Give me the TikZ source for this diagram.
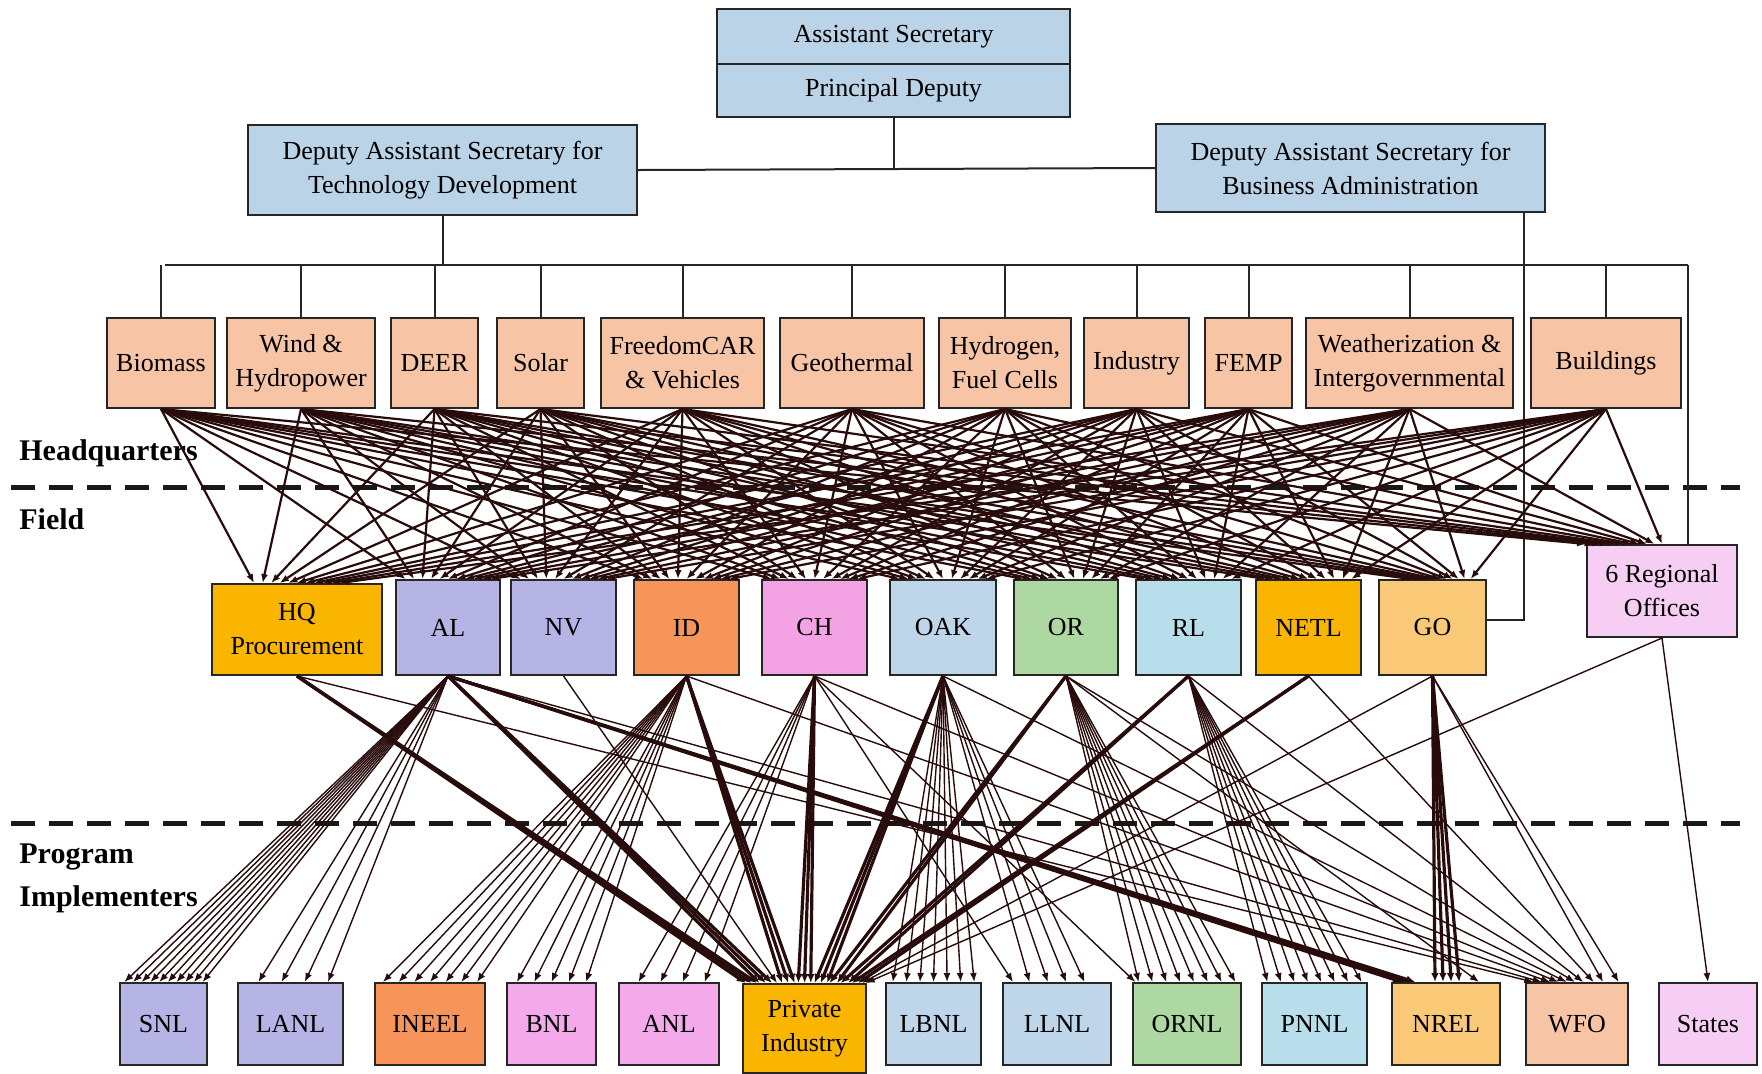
\documentclass[tikz,border=0pt]{standalone}
\usepackage{fontspec}
\setmainfont{Liberation Serif}
\usetikzlibrary{calc,arrows.meta}
\definecolor{topblue}{RGB}{186,211,231}
\definecolor{peach}{RGB}{247,196,166}
\definecolor{hqorange}{RGB}{250,181,0}
\definecolor{lav}{RGB}{181,180,228}
\definecolor{idorange}{RGB}{247,148,90}
\definecolor{chpink}{RGB}{243,162,228}
\definecolor{ltpink}{RGB}{244,170,234}
\definecolor{oakblue}{RGB}{190,213,234}
\definecolor{orgreen}{RGB}{174,216,162}
\definecolor{rlcyan}{RGB}{184,222,236}
\definecolor{gocol}{RGB}{250,201,120}
\definecolor{regpink}{RGB}{247,206,243}
\definecolor{lnk}{RGB}{40,12,12}
\tikzset{
  box/.style={draw=black!85, line width=1pt, inner sep=0pt, align=center,
    font=\fontsize{13}{17}\selectfont},
  org/.style={line width=1pt, draw=black!85},
  uconn/.style={line width=1.1pt, draw=lnk, -{Latex[length=4.5pt,width=3.5pt]}},
  lconn/.style={line width=0.7pt, draw=lnk, -{Latex[length=4.5pt,width=3.5pt]}},
  tconn/.style={line width=1.6pt, draw=lnk, -{Latex[length=4.5pt,width=3.8pt]}},
  sepline/.style={line width=2.5pt, dash pattern=on 12pt off 7pt, draw=black!90},
  lab/.style={anchor=west, inner sep=0pt, font=\bfseries\fontsize{15}{18}\selectfont}
}
\newcommand\mkbox[7]{\node[box,fill=#6,minimum width={(#4-#2)*0.5pt},minimum height={(#5-#3)*0.5pt}] (#1) at ({(#2+#4)/2},{(#3+#5)/2}) {#7};}
\newcommand\bund[5]{%
  \foreach \k in {1,...,#3}{%
    \pgfmathsetmacro\fr{#4+(#5-#4)*(\k-1)/max(#3-1,1)}%
    \draw[lconn] (#1.south) -- ($(#2.north west)!\fr!(#2.north east)$);}}
\newcommand\bundT[5]{%
  \foreach \k in {1,...,#3}{%
    \pgfmathsetmacro\fr{#4+(#5-#4)*(\k-1)/max(#3-1,1)}%
    \draw[tconn] (#1.south) -- ($(#2.north west)!\fr!(#2.north east)$);}}
\begin{document}
\begin{tikzpicture}[x=0.5pt,y=-0.5pt]
\useasboundingbox[fill=white] (0,0) rectangle (1762,1073);

% separators
\coordinate (s1a) at (11,487); \coordinate (s1b) at (1740,487);
\coordinate (s2a) at (11,823); \coordinate (s2b) at (1740,823);
\draw[sepline] (s1a) -- (s1b);
\draw[sepline] (s2a) -- (s2b);

\node[lab] (lhq) at (19,453) {Headquarters};
\node[lab] (lfield) at (19,519) {Field};
\node[lab] (lprog) at (19,857) {Program};
\node[lab] (limpl) at (19,899) {Implementers};

% top
\mkbox{as}{717}{9}{1070}{64}{topblue}{Assistant Secretary}
\mkbox{pd}{717}{64}{1070}{117}{topblue}{Principal Deputy}
\mkbox{dast}{248}{125}{637}{215}{topblue}{Deputy Assistant Secretary for\\Technology Development}
\mkbox{dasb}{1156}{124}{1545}{212}{topblue}{Deputy Assistant Secretary for\\Business Administration}

% programs
\mkbox{bio}{107}{318}{215}{408}{peach}{Biomass}
\mkbox{wind}{227}{318}{375}{408}{peach}{Wind \&\\Hydropower}
\mkbox{deer}{391}{318}{478}{408}{peach}{DEER}
\mkbox{solar}{497}{318}{584}{408}{peach}{Solar}
\mkbox{fcar}{601}{318}{764}{408}{peach}{FreedomCAR\\\& Vehicles}
\mkbox{geo}{780}{318}{924}{408}{peach}{Geothermal}
\mkbox{hyd}{939}{318}{1071}{408}{peach}{Hydrogen,\\Fuel Cells}
\mkbox{ind}{1084}{318}{1189}{408}{peach}{Industry}
\mkbox{femp}{1205}{318}{1292}{408}{peach}{FEMP}
\mkbox{weath}{1306}{318}{1513}{408}{peach}{Weatherization \&\\Intergovernmental}
\mkbox{bldg}{1531}{318}{1681}{408}{peach}{Buildings}

% field
\mkbox{fHQ}{212}{584}{382}{675}{hqorange}{HQ\\Procurement}
\mkbox{fAL}{396}{580}{500}{675}{lav}{AL}
\mkbox{fNV}{511}{580}{616}{675}{lav}{NV}
\mkbox{fID}{634}{580}{739}{675}{idorange}{ID}
\mkbox{fCH}{762}{580}{867}{675}{chpink}{CH}
\mkbox{fOAK}{890}{580}{996}{675}{oakblue}{OAK}
\mkbox{fOR}{1014}{580}{1118}{675}{orgreen}{OR}
\mkbox{fRL}{1136}{580}{1241}{675}{rlcyan}{RL}
\mkbox{fNETL}{1256}{580}{1361}{675}{hqorange}{NETL}
\mkbox{fGO}{1379}{580}{1486}{675}{gocol}{GO}
\mkbox{fREG}{1587}{545}{1737}{637}{regpink}{6 Regional\\Offices}

% implementers
\mkbox{iSNL}{120}{983}{207}{1065}{lav}{SNL}
\mkbox{iLANL}{238}{983}{343}{1065}{lav}{LANL}
\mkbox{iINEEL}{375}{983}{485}{1065}{idorange}{INEEL}
\mkbox{iBNL}{507}{983}{596}{1065}{ltpink}{BNL}
\mkbox{iANL}{619}{983}{719}{1065}{ltpink}{ANL}
\mkbox{iPI}{743}{984}{866}{1073}{hqorange}{Private\\Industry}
\mkbox{iLBNL}{886}{983}{981}{1065}{oakblue}{LBNL}
\mkbox{iLLNL}{1003}{983}{1111}{1065}{oakblue}{LLNL}
\mkbox{iORNL}{1133}{983}{1241}{1065}{orgreen}{ORNL}
\mkbox{iPNNL}{1262}{983}{1367}{1065}{rlcyan}{PNNL}
\mkbox{iNREL}{1392}{983}{1500}{1065}{gocol}{NREL}
\mkbox{iWFO}{1526}{983}{1628}{1065}{peach}{WFO}
\mkbox{iST}{1659}{983}{1757}{1065}{regpink}{States}

% org chart lines
\draw[org] (dast.east) -- (dasb.west);
\draw[org] (pd.south) -- (pd.south |- dast.east);
\coordinate (busL) at (165,265);
\coordinate (busR) at (1688,265);
\draw[org] (busL) -- (busR);
\draw[org] (dast.south) -- (dast.south |- busL);
\foreach \p in {bio,wind,deer,solar,fcar,geo,hyd,ind,femp,weath,bldg}{
  \draw[org] (\p.north) -- (\p.north |- busL);}
\draw[org] (busR) -- (busR |- fREG.north);
\coordinate (bj) at (1524,620);
\draw[org] (dasb.south -| bj) -- (bj) -- (fGO.east |- bj);

% programs -> field offices
\foreach \p [count=\j from 0] in {bio,wind,deer,solar,fcar,geo,hyd,ind,femp,weath,bldg}{
  \foreach \f/\a/\b in {fHQ/0.25/0.75, fAL/0.1/0.9, fNV/0.1/0.9, fID/0.1/0.9, fCH/0.1/0.9,
      fOAK/0.1/0.9, fOR/0.1/0.9, fRL/0.1/0.9, fNETL/0.1/0.9, fGO/0.3/0.85, fREG/0.0/0.5}{
    \draw[uconn] (\p.south) -- ($(\f.north west)!{\a+(\b-\a)*\j/10}!(\f.north east)$);
  }
}

% field offices -> implementers
\bund{fAL}{iSNL}{10}{0.06}{0.94}
\bund{fAL}{iLANL}{4}{0.2}{0.85}
\bund{fID}{iINEEL}{7}{0.08}{0.92}
\bund{fID}{iBNL}{5}{0.12}{0.88}
\bund{fCH}{iANL}{4}{0.2}{0.85}
\bund{fOAK}{iLBNL}{7}{0.08}{0.92}
\bund{fOAK}{iLLNL}{4}{0.25}{0.75}
\bund{fOR}{iORNL}{8}{0.06}{0.94}
\bund{fRL}{iPNNL}{8}{0.06}{0.94}
\bundT{fGO}{iNREL}{4}{0.4}{0.62}
\bundT{fAL}{iNREL}{3}{0.1}{0.22}
\bundT{fHQ}{iPI}{3}{0.03}{0.12}
\bundT{fAL}{iPI}{3}{0.14}{0.24}
\bund{fNV}{iPI}{1}{0.28}{0.28}
\bundT{fID}{iPI}{3}{0.32}{0.42}
\bundT{fCH}{iPI}{3}{0.45}{0.55}
\bundT{fOAK}{iPI}{3}{0.58}{0.68}
\bundT{fOR}{iPI}{2}{0.7}{0.76}
\bundT{fRL}{iPI}{2}{0.79}{0.85}
\bundT{fNETL}{iPI}{2}{0.88}{0.93}
\bund{fGO}{iPI}{1}{0.96}{0.96}
\bund{fREG}{iPI}{1}{0.99}{0.99}
\bund{fHQ}{iWFO}{1}{0.08}{0.08}
\bund{fAL}{iWFO}{1}{0.16}{0.16}
\bund{fID}{iWFO}{1}{0.24}{0.24}
\bund{fCH}{iWFO}{1}{0.32}{0.32}
\bund{fOAK}{iWFO}{1}{0.4}{0.4}
\bund{fOR}{iWFO}{1}{0.48}{0.48}
\bund{fRL}{iWFO}{1}{0.56}{0.56}
\bund{fNETL}{iWFO}{1}{0.66}{0.66}
\bund{fGO}{iWFO}{2}{0.75}{0.9}
\bund{fCH}{iLLNL}{1}{0.1}{0.1}
\bund{fCH}{iORNL}{1}{0.03}{0.03}
\bund{fOR}{iNREL}{1}{0.8}{0.8}
\bund{fREG}{iST}{1}{0.5}{0.5}
\end{tikzpicture}
\end{document}
